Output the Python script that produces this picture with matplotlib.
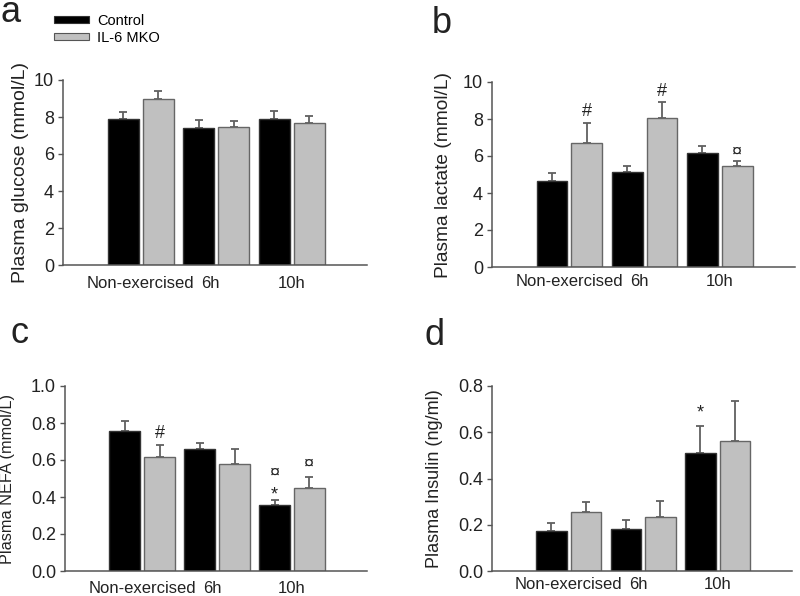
import matplotlib
matplotlib.use("Agg")
import matplotlib.pyplot as plt
from matplotlib.patches import Patch
import numpy as np

plt.rcParams['font.family'] = ['Liberation Sans', 'DejaVu Sans']

# ---------------- data ----------------
groups = ["Non-exercised", "6h", "10h"]
series_names = ["Control", "IL-6 MKO"]

glucose_ctrl = [7.88, 7.43, 7.91]
glucose_ctrl_err = [0.41, 0.39, 0.40]
glucose_ko = [8.99, 7.46, 7.66]
glucose_ko_err = [0.41, 0.32, 0.38]

lactate_ctrl = [4.65, 5.15, 6.15]
lactate_ctrl_err = [0.45, 0.33, 0.39]
lactate_ko = [6.69, 8.07, 5.48]
lactate_ko_err = [1.11, 0.83, 0.25]

nefa_ctrl = [0.756, 0.662, 0.359]
nefa_ctrl_err = [0.053, 0.031, 0.024]
nefa_ko = [0.614, 0.581, 0.449]
nefa_ko_err = [0.065, 0.080, 0.060]

insulin_ctrl = [0.173, 0.183, 0.510]
insulin_ctrl_err = [0.035, 0.038, 0.118]
insulin_ko = [0.256, 0.235, 0.563]
insulin_ko_err = [0.044, 0.068, 0.171]

glucose_ticks = [0, 2, 4, 6, 8, 10]
lactate_ticks = [0, 2, 4, 6, 8, 10]
nefa_ticks = [0.0, 0.2, 0.4, 0.6, 0.8, 1.0]
insulin_ticks = [0.0, 0.2, 0.4, 0.6, 0.8]

# annotations: (group index, series index, symbol, offset in points above error bar)
lactate_marks = [(0, 1, "#", 5.0), (1, 1, "#", 4.5), (2, 1, "\u00a4", 3.5)]
nefa_marks = [(0, 1, "#", 5.5), (2, 0, "*", 0.5), (2, 0, "\u00a4", 16.0), (2, 1, "\u00a4", 6.0)]
insulin_marks = [(2, 0, "*", 6.0)]
glucose_marks = []

# ---------------- style ----------------
W, H = 800, 596
fig = plt.figure(figsize=(W / 100, H / 100), dpi=100)

CTRL_C = "#000000"
KO_C = "#c0c0c0"
SPINE = "#555555"
TXT = "#222222"

bar_w = 0.41
offs = [-0.232, 0.232]


def px_axes(l, r, b, t):
    return fig.add_axes([l / W, 1 - b / H, (r - l) / W, (b - t) / H])


def panel(ax, ctrl, ctrl_e, ko, ko_e, ticks, fmt, ylabel, ylabel_size, label_x,
          xpad, marks, tick_pos):
    x = np.arange(len(groups))
    vals = [ctrl, ko]
    errs = [ctrl_e, ko_e]
    colors = [CTRL_C, KO_C]
    edges = ["#333333", "#666666"]
    for s in range(2):
        ax.bar(x + offs[s], vals[s], width=bar_w, color=colors[s],
               edgecolor=edges[s], linewidth=1.0, zorder=2)
        ax.errorbar(x + offs[s], vals[s],
                    yerr=[np.zeros(len(groups)), errs[s]],
                    fmt="none", ecolor="#606060", elinewidth=1.3,
                    capsize=3.2, capthick=1.3, zorder=1)
    for g, s, sym, off in marks:
        top = vals[s][g] + errs[s][g]
        ax.annotate(sym, xy=(g + offs[s], top), xytext=(0, off),
                    textcoords="offset points", ha="center", va="baseline",
                    fontsize=13, color=TXT)
    ax.set_xlim(-1.03, 3.0)
    ax.set_ylim(ticks[0], ticks[-1])
    ax.set_yticks(ticks)
    ax.set_yticklabels([fmt.format(t) for t in ticks])
    ax.set_xticks(tick_pos)
    ax.set_xticklabels(groups)
    ax.tick_params(axis="x", length=0, pad=xpad, labelsize=12, labelcolor=TXT)
    ax.tick_params(axis="y", length=3.5, width=1, color=SPINE, direction="out",
                   pad=3, labelsize=13, labelcolor=TXT)
    for sp in ["top", "right"]:
        ax.spines[sp].set_visible(False)
    for sp in ["left", "bottom"]:
        ax.spines[sp].set_color(SPINE)
        ax.spines[sp].set_linewidth(1.1)
    ax.set_ylabel(ylabel, fontsize=ylabel_size, color=TXT)
    ax.yaxis.set_label_coords(label_x, 0.5)
    ax.set_facecolor("none")


tick_pos = [0, 0.93, 2]

ax_a = px_axes(63, 367, 265, 80)
panel(ax_a, glucose_ctrl, glucose_ctrl_err, glucose_ko, glucose_ko_err,
      glucose_ticks, "{:.0f}", "Plasma glucose (mmol/L)", 14, -0.112, 8,
      glucose_marks, tick_pos)

ax_b = px_axes(492, 795, 267, 82)
panel(ax_b, lactate_ctrl, lactate_ctrl_err, lactate_ko, lactate_ko_err,
      lactate_ticks, "{:.0f}", "Plasma lactate (mmol/L)", 13.8, -0.132, 5,
      lactate_marks, tick_pos)

ax_c = px_axes(65, 367, 571, 386)
panel(ax_c, nefa_ctrl, nefa_ctrl_err, nefa_ko, nefa_ko_err,
      nefa_ticks, "{:.1f}", "Plasma NEFA (mmol/L)", 11.7, -0.166, 7,
      nefa_marks, tick_pos)

ax_d = px_axes(492, 792, 571, 386)
panel(ax_d, insulin_ctrl, insulin_ctrl_err, insulin_ko, insulin_ko_err,
      insulin_ticks, "{:.1f}", "Plasma Insulin (ng/ml)", 13, -0.163, 4.5,
      insulin_marks, tick_pos)

# panel letters
for lbl, xp, yp in [("a", 0, 22), ("b", 432, 33), ("c", 10, 343), ("d", 425, 345)]:
    fig.text(xp / W, 1 - yp / H, lbl, fontsize=26, color=TXT, ha="left", va="baseline")

# legend
handles = [Patch(facecolor=CTRL_C, edgecolor="#333333", linewidth=0.8),
           Patch(facecolor=KO_C, edgecolor="#555555", linewidth=0.8)]
fig.legend(handles, series_names, loc="upper left",
           bbox_to_anchor=(54 / W, 1 - 14 / H), frameon=False, fontsize=10.5,
           handlelength=2.4, handleheight=0.35, handletextpad=0.55,
           labelspacing=0.2, borderaxespad=0, borderpad=0)

fig.savefig("out.png", dpi=100)
